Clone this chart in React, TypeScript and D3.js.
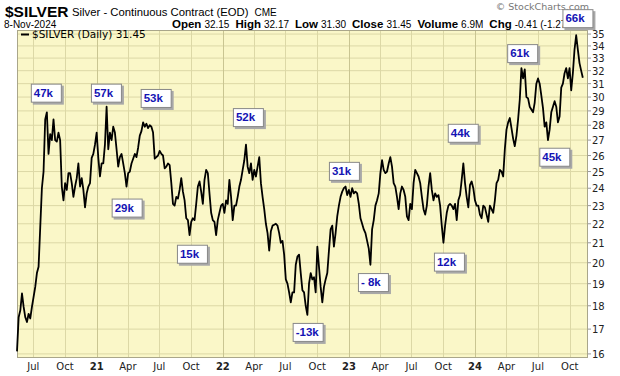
import React from "react";
import * as d3 from "d3";

const WIDTH = 620;
const HEIGHT = 376;
const PLOT_L = 17;
const PLOT_R = 588;
const PLOT_T = 30;
const PLOT_B = 358;

const seriesStart = "2020-05-15";
const seriesEnd = "2024-11-08";
const axisStart = "2020-05-15";
const axisEnd = "2024-11-23";

// prices (May 2020 - Jun 2021)
const pricesA = [
  16.1, 17.5, 17.8, 18.55, 17.95, 17.5, 17.3, 17.65, 17.45, 17.95,
  18.4, 18.85, 19.5, 19.8, 21.8, 24.0, 25.0, 28.4, 28.9, 26.1,
  27.4, 27.0, 28.4, 27.0, 26.9, 27.5, 27.0, 24.1, 23.3, 24.3,
  23.9, 24.9, 24.9, 24.3, 23.5, 24.1, 24.6, 25.5, 24.1, 24.6,
  23.9, 22.9, 23.7, 24.1, 24.3, 25.85, 26.1, 26.7, 27.5, 25.85,
  24.7, 25.5, 25.5, 26.7, 29.3, 26.4, 27.5, 27.0, 27.9, 27.5,
  26.4, 25.3, 25.9, 26.1, 25.5, 24.9, 24.1, 24.9, 25.0, 25.5,
  25.8, 26.1, 25.9, 26.5, 27.3, 27.6, 28.2, 27.9, 28.1, 27.8,
  28.0, 27.9, 27.5, 25.8, 25.9, 26.0, 26.3, 26.1, 26.0, 25.2,
  25.3, 25.5, 25.4, 24.3, 23.1, 23.0, 23.5, 23.4, 23.9, 24.6,
  23.8, 23.3, 22.3, 22.2, 21.4, 22.1, 22.3, 22.2, 23.1, 24.1,
  24.4,
];
// Oct 2021 - Mar 2023
const pricesB = [
  23.8, 23.1, 24.5, 25.1, 24.9, 23.7, 22.6, 22.2, 22.1, 21.4,
  22.2, 22.6, 23.0, 23.1, 22.6, 23.3, 23.1, 24.5, 23.5, 22.2,
  23.0, 23.0, 23.5, 24.1, 24.5, 25.1, 25.7, 26.7, 25.3, 24.9,
  25.5, 24.5, 25.1, 24.7, 25.3, 25.9, 24.3, 23.5, 22.8, 22.0,
  21.5, 20.6, 21.6, 21.9, 21.95, 22.0, 21.9, 21.5, 21.0, 21.1,
  20.4, 19.2, 19.0, 18.6, 18.15, 18.6, 18.6, 19.9, 20.3, 20.4,
  19.5, 18.7, 18.6, 18.0, 17.6, 19.0, 19.5, 19.2, 19.3, 18.6,
  20.8, 19.8, 18.85, 18.15, 18.85, 19.2, 19.5, 20.6, 21.7, 21.9,
  20.8, 21.5, 22.4, 23.0, 23.5, 23.8, 24.0, 24.1, 23.6, 23.9,
  23.5, 24.0, 23.7, 23.8, 23.7, 23.1, 22.3, 22.0, 21.7, 21.5,
  21.1, 20.7, 19.9, 21.7, 22.2, 23.0, 23.3, 23.7, 24.9, 25.7,
  25.1, 24.9, 25.0, 25.5, 25.9, 25.3, 24.3, 24.1, 23.5, 22.8,
];
// Mar 2023 - Nov 2024
const pricesC = [
  23.7, 24.1, 23.9, 23.5, 22.4, 22.2, 23.1, 22.8, 24.3, 25.1,
  24.9, 24.7, 24.3, 23.5, 22.8, 22.5, 23.0, 24.1, 24.9, 23.9,
  23.3, 23.7, 23.5, 23.6, 23.0, 21.9, 21.0, 21.9, 22.6, 23.0,
  23.1, 23.0, 22.8, 23.1, 22.2, 23.3, 23.6, 24.5, 25.5, 24.3,
  23.5, 22.9, 24.2, 24.4, 24.0, 23.3, 23.0, 23.0, 22.5, 22.3,
  23.0, 22.9, 22.5, 22.1, 23.0, 22.8, 22.6, 23.3, 24.3, 24.5,
  25.1, 25.0, 24.7, 26.4, 27.7, 28.2, 28.5, 27.8, 27.1, 26.6,
  27.3, 28.4, 29.8, 32.2, 31.4, 32.1, 30.0, 29.9, 29.3, 29.1,
  28.9, 29.6, 31.0, 31.4, 31.0, 30.1, 29.2, 27.9, 28.2, 27.0,
  27.7, 28.9, 29.3, 29.7, 29.3, 28.2, 28.6, 30.7, 31.0, 31.8,
  32.2, 31.4, 32.2, 30.5, 31.8, 33.7, 34.9, 33.7, 32.6, 32.0,
  31.45,
];

const yTickValues = [16, 17, 18, 19, 20, 21, 22, 23, 24, 25, 26, 27, 28, 29, 30, 31, 32, 33, 34, 35];

const xTickDates = [
  "2020-07-01", "2020-10-01", "2021-01-01", "2021-04-01", "2021-07-01", "2021-10-01",
  "2022-01-01", "2022-04-01", "2022-07-01", "2022-10-01", "2023-01-01", "2023-04-01",
  "2023-07-01", "2023-10-01", "2024-01-01", "2024-04-01", "2024-07-01", "2024-10-01",
];
const xTickLabels = [
  "Jul", "Oct", "21", "Apr", "Jul", "Oct", "22", "Apr", "Jul", "Oct", "23", "Apr",
  "Jul", "Oct", "24", "Apr", "Jul", "Oct",
];
const yearLabels = ["21", "22", "23", "24"];

const noteLabels = ["47k", "57k", "53k", "29k", "15k", "52k", "-13k", "31k", "- 8k", "12k", "44k", "61k", "45k", "66k"];
const noteDates = [
  "2020-06-24", "2020-12-15", "2021-05-08", "2021-02-13", "2021-08-21", "2022-01-30",
  "2022-07-22", "2022-11-04", "2023-01-27", "2023-09-04", "2023-10-14", "2024-04-03",
  "2024-07-05", "2024-09-10",
];
const notePrices = [31.0, 31.0, 30.6, 23.4, 20.9, 29.2, 17.26, 25.6, 19.5, 20.5, 28.1, 34.15, 26.5, 37.2];

const headerItems = [
  ["Open", "32.15"],
  ["High", "32.17"],
  ["Low", "31.30"],
  ["Close", "31.45"],
  ["Volume", "6.9M"],
  ["Chg", "-0.41 (-1.27%)"],
];

const SANS = "'Liberation Sans', Arial, sans-serif";
const TAHOMA = "'DejaVu Sans', Verdana, sans-serif";

export default function App() {
  const parse = d3.timeParse("%Y-%m-%d");
  const all = [...pricesA, ...pricesB, ...pricesC];
  const t0 = parse(seriesStart)!.getTime();
  const t1 = parse(seriesEnd)!.getTime();
  const data = all.map((v, i) => ({
    date: new Date(t0 + ((t1 - t0) * i) / (all.length - 1)),
    value: v,
  }));

  const x = d3.scaleTime().domain([parse(axisStart)!, parse(axisEnd)!]).range([PLOT_L, PLOT_R]);
  const y = d3.scaleLog().domain([15.84, 35.35]).range([PLOT_B, PLOT_T]);

  const line = d3
    .line<{ date: Date; value: number }>()
    .x((d) => x(d.date))
    .y((d) => y(d.value));

  const notes = noteLabels.map((l, i) => ({
    label: l,
    x: x(parse(noteDates[i])!),
    y: y(notePrices[i]),
  }));

  return (
    <svg
      width={WIDTH}
      height={HEIGHT}
      style={{ position: "absolute", left: 0, top: 0, background: "#fff" }}
    >
      <rect x={0} y={0} width={WIDTH} height={HEIGHT} fill="#fff" />
      {/* header */}
      <text x={5} y={17} fontFamily={SANS} fontSize={15.5} fontWeight="bold" fill="#000">
        $SILVER
      </text>
      <text x={72} y={16} fontFamily={SANS} fontSize={11.3} fill="#000">
        Silver - Continuous Contract (EOD)
        <tspan dx={6} fontSize={10}>CME</tspan>
      </text>
      <text x={4} y={28} fontFamily={SANS} fontSize={10} fill="#000">
        8-Nov-2024
      </text>
      <text x={172} y={28} fontFamily={SANS} fontSize={10} fill="#000">
        {headerItems.map(([k, v], i) => (
          <React.Fragment key={k}>
            <tspan dx={i === 0 ? 0 : 6} fontWeight="bold" fontSize={11.5}>{k}</tspan>
            <tspan dx={3}>{v}</tspan>
          </React.Fragment>
        ))}
      </text>
      <text x={589} y={10} textAnchor="end" fontFamily={TAHOMA} fontSize={9.5} fill="#777">
        © StockCharts.com
      </text>

      {/* plot background */}
      <rect x={PLOT_L} y={PLOT_T} width={PLOT_R - PLOT_L} height={PLOT_B - PLOT_T} fill="#FAF7C8" />
      {yTickValues.map((v) => (
        <line key={"h" + v} x1={PLOT_L} x2={PLOT_R} y1={y(v)} y2={y(v)} stroke="#DCD8A6" strokeWidth={1} />
      ))}
      {xTickDates.map((d, i) => {
        const xx = Math.round(x(parse(d)!)) + 0.5;
        const isYear = yearLabels.includes(xTickLabels[i]);
        return (
          <line key={"v" + d} x1={xx} x2={xx} y1={PLOT_T} y2={PLOT_B} stroke={isYear ? "#C9C592" : "#DCD8A6"} strokeWidth={1} />
        );
      })}
      <rect x={PLOT_L + 0.5} y={PLOT_T + 0.5} width={PLOT_R - PLOT_L - 1} height={PLOT_B - PLOT_T - 1} fill="none" stroke="#A9A68A" strokeWidth={1} />

      {/* legend */}
      <line x1={21} x2={29} y1={34.5} y2={34.5} stroke="#000" strokeWidth={2} />
      <text x={32} y={38} fontFamily={TAHOMA} fontSize={10.5} fill="#000">
        $SILVER (Daily) 31.45
      </text>

      {/* price line */}
      <path d={line(data) || ""} fill="none" stroke="#000" strokeWidth={1.8} strokeLinejoin="round" />

      {/* right axis */}
      {yTickValues.map((v) => (
        <g key={"yt" + v}>
          <line x1={PLOT_R} x2={PLOT_R + 3} y1={y(v)} y2={y(v)} stroke="#999" />
          <text x={PLOT_R + 4} y={y(v) + 4} fontFamily={TAHOMA} fontSize={10} fill="#222">
            {v}
          </text>
        </g>
      ))}

      {/* bottom axis */}
      {xTickDates.map((d, i) => {
        const isYear = yearLabels.includes(xTickLabels[i]);
        return (
          <text
            key={"xt" + d}
            x={x(parse(d)!)}
            y={370}
            textAnchor="middle"
            fontFamily={TAHOMA}
            fontSize={10}
            fontWeight={isYear ? "bold" : "normal"}
            fill="#222"
          >
            {xTickLabels[i]}
          </text>
        );
      })}

      {/* annotations */}
      {notes.map((n) => (
        <g key={n.label} transform={`translate(${n.x},${n.y})`}>
          <rect x={2} y={2} width={31} height={19} fill="#A8A8A8" />
          <rect x={0.5} y={0.5} width={30} height={18} fill="#fff" stroke="#888" strokeWidth={1} />
          <text x={3} y={13} fontFamily={SANS} fontSize={11.5} fontWeight="bold" fill="#1414B4">
            {n.label}
          </text>
        </g>
      ))}
    </svg>
  );
}
